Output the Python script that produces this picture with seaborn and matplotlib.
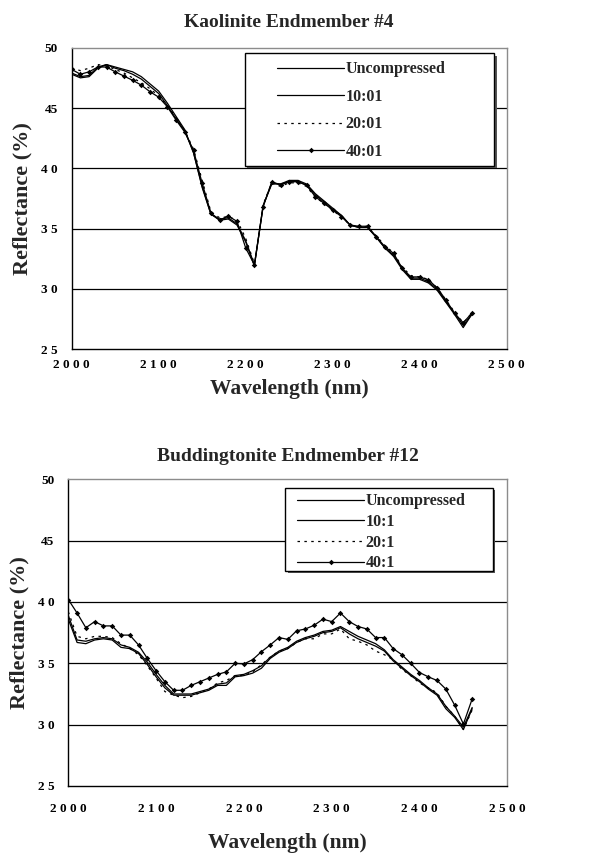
import numpy as np
import pandas as pd
import matplotlib
matplotlib.use("Agg")
import matplotlib.pyplot as plt
import seaborn as sns
from matplotlib.patches import Rectangle

wavelength = list(range(2000, 2461, 10))

# Kaolinite Endmember #4
kao_uncompressed = [47.8, 47.5, 47.6, 48.3, 48.6, 48.4, 48.2, 48.0, 47.6, 47.0, 46.4, 45.4, 44.3, 43.2, 41.3, 38.4,
                    36.2, 35.7, 35.8, 35.3, 33.9, 31.9, 36.9, 38.7, 38.7, 39.0, 39.0, 38.7, 37.9, 37.3, 36.7, 36.1,
                    35.3, 35.1, 35.1, 34.3, 33.4, 32.7, 31.6, 30.8, 30.8, 30.5, 29.9, 28.9, 27.9, 26.8, 27.9]
kao_10 = [47.9, 47.6, 47.7, 48.4, 48.6, 48.3, 48.1, 47.8, 47.4, 46.8, 46.2, 45.2, 44.1, 43.1, 41.3, 38.5,
          36.2, 35.8, 35.9, 35.4, 34.0, 32.0, 36.9, 38.8, 38.7, 38.9, 38.9, 38.6, 37.8, 37.2, 36.6, 36.1,
          35.3, 35.1, 35.1, 34.3, 33.4, 32.8, 31.7, 30.9, 30.9, 30.6, 30.0, 29.0, 28.0, 27.0, 27.9]
kao_20 = [48.3, 48.1, 48.3, 48.6, 48.5, 48.2, 47.9, 47.5, 47.1, 46.6, 46.0, 45.2, 44.2, 43.1, 41.6, 39.0,
          36.4, 35.9, 36.0, 35.7, 34.2, 32.1, 37.0, 38.8, 38.5, 38.8, 38.8, 38.5, 37.6, 37.1, 36.5, 36.0,
          35.3, 35.1, 35.2, 34.4, 33.6, 33.0, 31.8, 31.1, 31.0, 30.8, 30.1, 29.1, 28.1, 27.2, 28.0]
kao_40 = [48.2, 47.8, 48.0, 48.4, 48.4, 48.0, 47.65, 47.3, 46.9, 46.35, 45.9, 45.1, 44.0, 43.0, 41.5, 38.75,
          36.3, 35.7, 36.05, 35.6, 33.4, 32.0, 36.8, 38.9, 38.6, 38.9, 38.9, 38.6, 37.65, 37.1, 36.55, 36.0,
          35.3, 35.2, 35.2, 34.35, 33.5, 32.95, 31.7, 31.0, 31.0, 30.75, 30.1, 29.1, 28.0, 27.2, 28.0]

# Buddingtonite Endmember #12
bud_uncompressed = [38.6, 36.7, 36.6, 36.9, 37.0, 36.9, 36.3, 36.2, 35.8, 34.9, 33.9, 33.0, 32.4, 32.4, 32.4, 32.6,
                    32.8, 33.2, 33.2, 33.9, 34.0, 34.2, 34.6, 35.4, 35.9, 36.2, 36.7, 37.0, 37.2, 37.5, 37.6, 37.9,
                    37.4, 37.0, 36.7, 36.4, 36.0, 35.2, 34.6, 34.0, 33.5, 32.9, 32.4, 31.3, 30.6, 29.6, 31.3]
bud_10 = [38.9, 36.9, 36.8, 37.0, 37.1, 37.0, 36.5, 36.3, 35.9, 35.1, 34.1, 33.2, 32.5, 32.5, 32.5, 32.7,
          32.9, 33.3, 33.4, 34.0, 34.1, 34.4, 34.8, 35.5, 36.0, 36.3, 36.8, 37.1, 37.3, 37.6, 37.7, 38.0,
          37.6, 37.2, 36.9, 36.6, 36.1, 35.3, 34.7, 34.1, 33.6, 33.0, 32.5, 31.5, 30.7, 29.8, 31.4]
bud_20 = [39.2, 37.2, 37.0, 37.2, 37.2, 37.1, 36.6, 36.2, 35.7, 34.8, 33.8, 32.7, 32.4, 32.2, 32.3, 32.6,
          32.9, 33.4, 33.6, 34.0, 34.0, 34.3, 34.9, 35.5, 36.0, 36.2, 36.7, 37.0, 37.0, 37.4, 37.4, 37.8,
          37.0, 36.8, 36.5, 36.0, 35.7, 35.3, 34.5, 34.0, 33.4, 33.0, 32.6, 31.5, 30.7, 29.6, 31.2]
bud_40 = [40.2, 39.1, 37.9, 38.4, 38.05, 38.05, 37.3, 37.3, 36.5, 35.4, 34.4, 33.5, 32.8, 32.8, 33.2, 33.5,
          33.8, 34.1, 34.3, 35.0, 34.95, 35.3, 35.95, 36.5, 37.1, 36.95, 37.65, 37.8, 38.1, 38.6, 38.4, 39.1,
          38.4, 38.0, 37.8, 37.1, 37.1, 36.2, 35.7, 35.0, 34.25, 33.9, 33.6, 32.9, 31.6, 30.05, 32.1]

kao_labels = ["Uncompressed", "10:01", "20:01", "40:01"]
bud_labels = ["Uncompressed", "10:1", "20:1", "40:1"]
titles = ["Kaolinite Endmember #4", "Buddingtonite Endmember #12"]
x_ticks = [2000, 2100, 2200, 2300, 2400, 2500]
x_tick_labels = ["2 0 0 0", "2 1 0 0", "2 2 0 0", "2 3 0 0", "2 4 0 0", "2 5 0 0"]
y_ticks = [25, 30, 35, 40, 45, 50]
y_tick_labels = ["2 5", "3 0", "3 5", "4 0", "45", "50"]

sns.set_style("white")
plt.rcParams["font.family"] = ["Liberation Serif", "DejaVu Serif"]
plt.rcParams["font.weight"] = "bold"

fig = plt.figure(figsize=(5.98, 8.57), dpi=100)
W, H = 598, 857

def axes_px(left, top, right, bottom):
    return fig.add_axes([left / W, 1 - bottom / H, (right - left) / W, (bottom - top) / H])

ax1 = axes_px(71.7, 47.7, 506.7, 349.3)
ax2 = axes_px(68.3, 479.3, 507.3, 786.0)

styles = [
    dict(linestyle="-", marker=None),
    dict(linestyle="-", marker=None),
    dict(linestyle=(0, (2.0, 3.5)), marker=None),
    dict(linestyle="-", marker="D", markersize=2.8),
]

def draw(ax, series, labels, title, leg_box, leg_anchor, leg_spacing, xtickpad, xlabelpad, title_pad):
    for vals, lab, st in zip(series, labels, styles):
        df = pd.DataFrame({"Wavelength": wavelength, "Reflectance": vals})
        sns.lineplot(data=df, x="Wavelength", y="Reflectance", ax=ax, color="black",
                     linewidth=0.9, label=lab, estimator=None, legend=True,
                     linestyle=st["linestyle"], marker=st["marker"],
                     markersize=st.get("markersize", 0), markeredgewidth=0,
                     markerfacecolor="black", zorder=3)
    ax.set_xlim(2000, 2500)
    ax.set_ylim(25, 50)
    ax.set_xticks(x_ticks)
    ax.set_yticks(y_ticks)
    ax.set_xticklabels(x_tick_labels, fontsize=9.5, fontweight="bold")
    ax.set_yticklabels(y_tick_labels, fontsize=9.5, fontweight="bold")
    ax.tick_params(axis="x", direction="out", length=4, width=1, pad=xtickpad, colors="black")
    ax.tick_params(axis="y", direction="out", length=3, width=1, pad=7, colors="black")
    for yv in [30, 35, 40, 45]:
        ax.axhline(yv, color="black", linewidth=0.9, zorder=1)
    ax.spines["left"].set_color("black")
    ax.spines["bottom"].set_color("black")
    ax.spines["left"].set_linewidth(1.0)
    ax.spines["bottom"].set_linewidth(1.0)
    ax.spines["top"].set_color("#8c8c8c")
    ax.spines["right"].set_color("#8c8c8c")
    ax.spines["top"].set_linewidth(1.0)
    ax.spines["right"].set_linewidth(1.0)
    ax.set_xlabel("Wavelength (nm)", fontsize=15.5, fontweight="bold", labelpad=xlabelpad)
    ax.set_ylabel("Reflectance (%)", fontsize=16, fontweight="bold", labelpad=6)
    ax.set_title(title, fontsize=14, fontweight="bold", pad=title_pad)
    # legend frame with shadow
    x0, y0, x1, y1 = leg_box
    sh = Rectangle((x0 + 0.006, y0 - 0.008), x1 - x0, y1 - y0, transform=ax.transAxes,
                   facecolor="#555555", edgecolor="none", zorder=4)
    fr = Rectangle((x0, y0), x1 - x0, y1 - y0, transform=ax.transAxes,
                   facecolor="white", edgecolor="black", linewidth=1.0, zorder=5)
    ax.add_patch(sh)
    ax.add_patch(fr)
    leg = ax.legend(loc="upper left", bbox_to_anchor=leg_anchor, frameon=False,
                    handlelength=4.2, handletextpad=0.1,
                    labelspacing=leg_spacing, borderpad=0, borderaxespad=0,
                    prop={"weight": "bold", "size": 11.5})
    leg.set_zorder(6)
    for line in leg.get_lines():
        line.set_linewidth(0.9)
    return leg

draw(ax1, [kao_uncompressed, kao_10, kao_20, kao_40], kao_labels, titles[0],
     (0.398, 0.608, 0.971, 0.982), (0.472, 0.955), 0.72, 3, 6, 15)
draw(ax2, [bud_uncompressed, bud_10, bud_20, bud_40], bud_labels, titles[1],
     (0.494, 0.701, 0.967, 0.972), (0.521, 0.955), 0.30, 8, 13, 13)

fig.savefig("out.png", dpi=100)
